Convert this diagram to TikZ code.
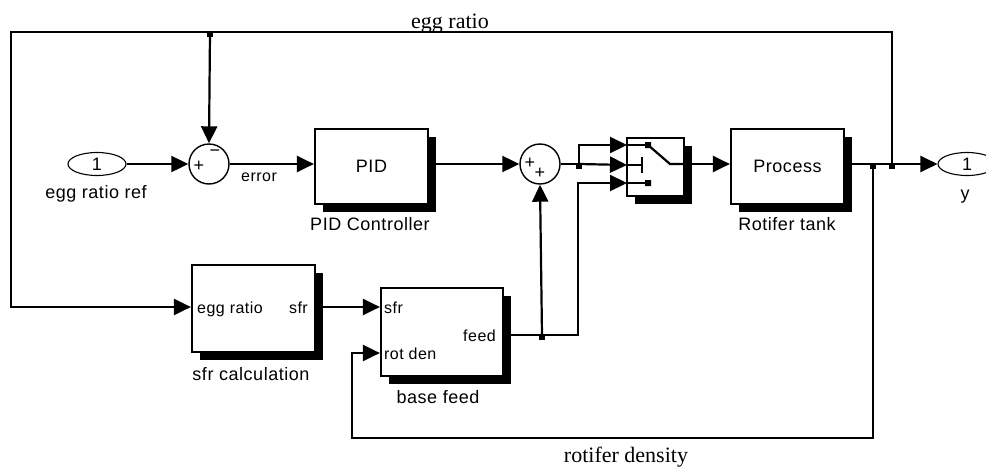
\documentclass[tikz,border=0pt]{standalone}
\usepackage{fontspec}
\newfontfamily\simfont{Liberation Sans}[LetterSpace=3]
\newfontfamily\notefont{Liberation Serif}
\usetikzlibrary{arrows.meta,shapes.geometric,shadows}

\begin{document}
\begin{tikzpicture}[x=1pt, y=-1pt,
  blk/.style={draw, line width=2.2pt, fill=white, inner sep=0pt,
    general shadow={fill=black, shadow xshift=8pt, shadow yshift=-8pt},
    font=\simfont\fontsize{18}{21}\selectfont},
  sumnode/.style={draw, circle, line width=1.4pt, minimum size=40pt, inner sep=0pt},
  io/.style={draw, ellipse, line width=1.1pt, minimum width=58pt, minimum height=23pt,
    inner sep=0pt, font=\simfont\fontsize{18}{21}\selectfont},
  lbl/.style={font=\simfont\fontsize{18}{21}\selectfont, inner sep=0pt},
  port/.style={font=\simfont\fontsize{16}{19}\selectfont, inner sep=0pt},
  note/.style={font=\notefont\fontsize{22}{26}\selectfont, inner sep=0pt},
  wire/.style={line width=2.2pt},
  sig/.style={line width=2.2pt, -{Triangle[length=17pt,width=16pt]}},
  jdot/.style={fill, rectangle, minimum size=6pt, inner sep=0pt}]

  \useasboundingbox (0,0) rectangle (986,469);

  % blocks
  \node[io] (ref) at (97,164) {1};
  \node[lbl, anchor=base] (refname) at (96,198) {egg ratio ref};
  \node[sumnode] (sumA) at (209,164) {};
  \node[lbl] at (199,166) {+};
  \node[lbl] at (215,153) {−};
  \node[blk, minimum width=113pt, minimum height=75pt] (pid) at (371.5,166.5) {PID};
  \node[lbl, anchor=base] (pidname) at (370,230) {PID Controller};
  \node[sumnode] (sumB) at (540,164) {};
  \node[lbl] at (530,163) {+};
  \node[lbl] at (540,173) {+};
  \node[blk, minimum width=57pt, minimum height=58pt] (sw) at (655.5,167) {};
  \node[blk, minimum width=113pt, minimum height=75pt] (proc) at (787.5,166.5) {Process};
  \node[lbl, anchor=base] (procname) at (787,230) {Rotifer tank};
  \node[io] (yout) at (967,164) {1};
  \node[lbl, anchor=base] (yname) at (965,199) {y};
  \node[blk, minimum width=123pt, minimum height=87pt] (sfrc) at (253.5,308.5) {};
  \node[port, anchor=base west] at (197,313) {egg ratio};
  \node[port, anchor=base east] at (308,313) {sfr};
  \node[lbl, anchor=base] (sfrcname) at (251,380) {sfr calculation};
  \node[blk, minimum width=122pt, minimum height=88pt] (basef) at (442,332) {};
  \node[port, anchor=base west] at (384,313) {sfr};
  \node[port, anchor=base east] at (496,341) {feed};
  \node[port, anchor=base west] at (384,359) {rot den};
  \node[lbl, anchor=base] (basefname) at (438,403) {base feed};

  % switch contacts
  \draw[wire] (627,145) -- (648,145) (627,183) -- (648,183) (627,165) -- (642,165);
  \draw[wire] (642,157) -- (642,173);
  \fill (645,142) rectangle (651,148) (645,180) rectangle (651,186);
  \draw[wire] (648,145) -- (670,164) -- (684,164);

  % points on the wires
  \coordinate (jtop) at (210,32);
  \coordinate (ctl) at (11,32);
  \coordinate (ctr) at (892,32);
  \coordinate (cbl) at (11,307);
  \coordinate (jsw) at (579,164);
  \coordinate (swA) at (627,145);
  \coordinate (swB) at (627,165);
  \coordinate (swC) at (627,183);
  \coordinate (swout) at (684,164);
  \coordinate (jfeed) at (542,335);
  \coordinate (fbend) at (578,335);
  \coordinate (jrd) at (873,164);
  \coordinate (jer) at (892,164);
  \coordinate (rdr) at (873,438);
  \coordinate (rdl) at (352,438);
  \coordinate (rdu) at (352,353);

  % signals
  \draw[sig] (ref.east) -- (sumA.west);
  \draw[sig] (sumA.east) -- (sumA.east -| pid.west);
  \node[port] (errname) at (259,177) {error};
  \draw[sig] (pid.east |- sumB) -- (sumB.west);
  \draw[wire] (sumB.east) -- (jsw);
  \draw[sig] (jsw) |- (swA);
  \draw[sig] (jsw) -- (swB);
  \draw[sig] (swout) -- (proc.west |- swout);
  \draw[wire] (proc.east |- swout) -- (jrd) -- (jer);
  \draw[sig] (jer) -- (yout.west);
  \draw[sig] (jer) -- (ctr) -- (ctl) -- (cbl) -- (sfrc.west |- cbl);
  \draw[sig] (jtop) -- (sumA.north);
  \draw[sig] (sfrc.east |- cbl) -- (basef.west |- cbl);
  \draw[wire] (basef.east |- jfeed) -- (jfeed);
  \draw[sig] (jfeed) -- (fbend) |- (swC);
  \draw[sig] (jfeed) -- (sumB.south);
  \draw[sig] (jrd) -- (rdr) -- (rdl) -- (rdu) -- (basef.west |- rdu);

  \node[jdot] at ([shift={(0,2)}]jtop) {};
  \node[jdot] at ([shift={(0,2)}]jsw) {};
  \node[jdot] at ([shift={(0,2)}]jfeed) {};
  \node[jdot] at ([shift={(0,2)}]jrd) {};
  \node[jdot] at ([shift={(0,2)}]jer) {};

  \node[note, anchor=base] (topname) at (450,28) {egg ratio};
  \node[note, anchor=base] (botname) at (626,462) {rotifer density};
\end{tikzpicture}
\end{document}
